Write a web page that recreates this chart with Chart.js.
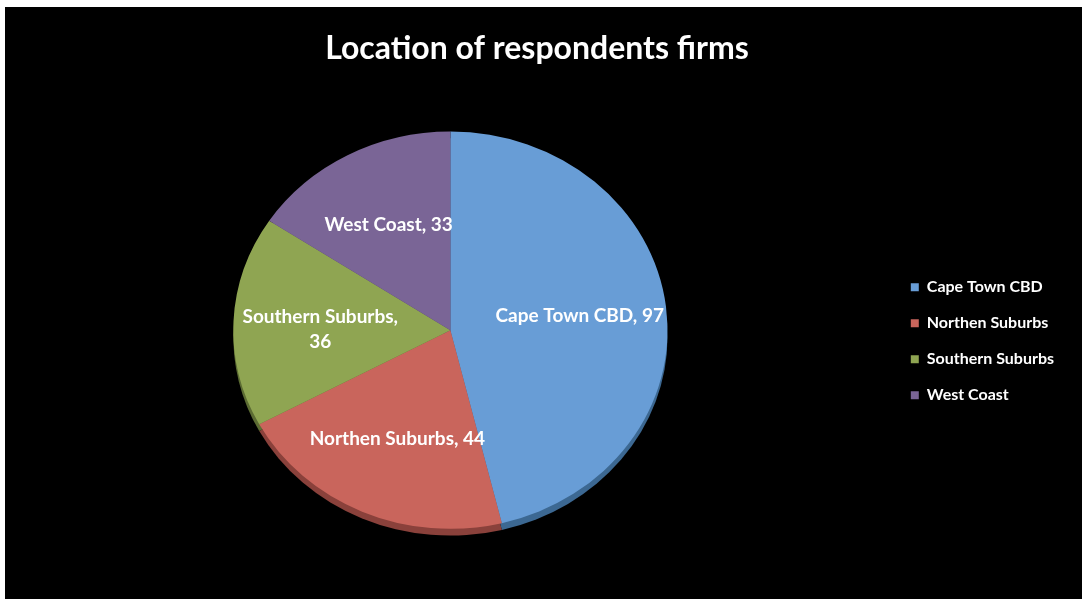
<!DOCTYPE html>
<html>
<head>
<meta charset="utf-8">
<script src="https://cdn.jsdelivr.net/npm/chart.js@4"></script>
<style>
  html, body { margin: 0; padding: 0; background: #fff; }
  #wrap { position: absolute; left: 5px; top: 7px; width: 1077px; height: 592px; background: #000; }
</style>
</head>
<body>
<div id="wrap"><canvas id="chart"></canvas></div>
<script>
const categories = ['Cape Town CBD', 'Northen Suburbs', 'Southern Suburbs', 'West Coast'];
const values = [97, 44, 36, 33];
const sliceColors = ['#689DD6', '#C9655C', '#8FA552', '#7A6596'];
const rimColors = ['#3C6892', '#8A413B', '#5C6C33', '#4E4066'];
const wrapLabel = [false, false, true, false];

// squash the pie a bit (tilted look) and add a darker rim under it,
// then write the "name, value" labels on top
const tiltPlugin = {
    id: 'tilt',
    beforeDatasetsDraw(chart) {
        const ctx = chart.ctx;
        const arcs = chart.getDatasetMeta(0).data;
        const cx = arcs[0].x, cy = arcs[0].y;
        ctx.save();
        ctx.translate(cx, cy);
        ctx.scale(1.055, 0.965);
        ctx.translate(-cx, -cy);
        arcs.forEach((arc, i) => {
            ctx.save();
            ctx.translate(0, 7);
            ctx.fillStyle = rimColors[i];
            ctx.beginPath();
            ctx.moveTo(arc.x, arc.y);
            ctx.arc(arc.x, arc.y, arc.outerRadius, arc.startAngle, arc.endAngle);
            ctx.closePath();
            ctx.fill();
            ctx.restore();
        });
    },
    afterDatasetsDraw(chart) {
        const ctx = chart.ctx;
        ctx.restore();
        ctx.save();
        ctx.font = 'bold 19px Lato';
        ctx.fillStyle = '#fff';
        ctx.textAlign = 'center';
        ctx.textBaseline = 'middle';
        chart.getDatasetMeta(0).data.forEach((arc, i) => {
            const mid = (arc.startAngle + arc.endAngle) / 2;
            const r = arc.outerRadius * 0.6;
            const x = arc.x + Math.cos(mid) * r * 1.055;
            const y = arc.y + Math.sin(mid) * r * 0.965;
            if (wrapLabel[i]) {
                ctx.fillText(categories[i] + ',', x, y - 8);
                ctx.fillText(String(values[i]), x, y + 17);
            } else {
                ctx.fillText(categories[i] + ', ' + values[i], x, y);
            }
        });
        ctx.restore();
    }
};

new Chart(document.getElementById('chart'), {
    type: 'pie',
    data: {
        labels: categories,
        datasets: [{
            data: values,
            backgroundColor: sliceColors,
            borderWidth: 0
        }]
    },
    options: {
        responsive: true,
        maintainAspectRatio: false,
        animation: false,
        layout: { padding: { left: 5, right: 18, top: 0, bottom: 63 } },
        plugins: {
            title: {
                display: true,
                text: 'Location of respondents firms',
                color: '#fff',
                font: { family: 'Lato', size: 32, weight: 'bold' },
                padding: { top: 22, bottom: 57 }
            },
            legend: {
                position: 'right',
                fullSize: false,
                title: { display: true, text: '', font: { size: 10, lineHeight: 1 }, padding: 6 },
                labels: {
                    color: '#fff',
                    font: { family: 'Lato', size: 16, weight: 'bold' },
                    boxWidth: 8,
                    boxHeight: 8,
                    padding: 20
                }
            },
            tooltip: { enabled: false }
        }
    },
    plugins: [tiltPlugin]
});
</script>
</body>
</html>
